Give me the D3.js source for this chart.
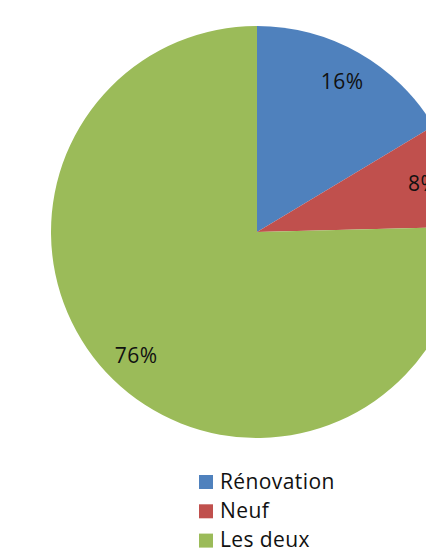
<!DOCTYPE html>
<html>
<head>
<meta charset="utf-8">
<script src="https://cdn.jsdelivr.net/npm/d3@7"></script>
<style>
  body { margin: 0; background: #fff; }
  svg { display: block; }
</style>
</head>
<body>
<div id="chart"></div>
<script>
var categories = ["Rénovation", "Neuf", "Les deux"];
var values = [16.4, 8.2, 75.4];
var labels = ["16%", "8%", "76%"];
var colors = ["#4F81BD", "#C0504D", "#9BBB59"];

var width = 426,
height = 550,
cx = 257,
cy = 232,
radius = 206;

var svg = d3.select('#chart').
append('svg').
attr('width', width).
attr('height', height);

var pie = d3.pie().sort(null).value(d => d);
var arcs = pie(values);

var arc = d3.arc().innerRadius(0).outerRadius(radius);
var labelArc = d3.arc().innerRadius(radius * 0.84).outerRadius(radius * 0.84);

var g = svg.append('g').attr('transform', 'translate(' + cx + ',' + cy + ')');

g.selectAll('path').
data(arcs).
enter().
append('path').
attr('d', arc).
attr('fill', (d, i) => colors[i]);

g.selectAll('text').
data(arcs).
enter().
append('text').
attr('transform', d => 'translate(' + labelArc.centroid(d) + ')').
attr('text-anchor', 'middle').
attr('dy', '0.35em').
style('font-family', '"Open Sans", sans-serif').
style('font-size', '21px').
style('letter-spacing', '0.5px').
style('fill', '#111').
text((d, i) => labels[i]);

var legend = svg.append('g').attr('transform', 'translate(199,475)');

var item = legend.selectAll('g').
data(categories).
enter().
append('g').
attr('transform', (d, i) => 'translate(0,' + i * 29.3 + ')');

item.append('rect').
attr('width', 14).
attr('height', 14).
attr('fill', (d, i) => colors[i]);

item.append('text').
attr('x', 21).
attr('y', 13.5).
style('font-family', '"Open Sans", sans-serif').
style('font-size', '21px').
style('letter-spacing', '0.4px').
style('fill', '#111').
text(d => d);
</script>
</body>
</html>
